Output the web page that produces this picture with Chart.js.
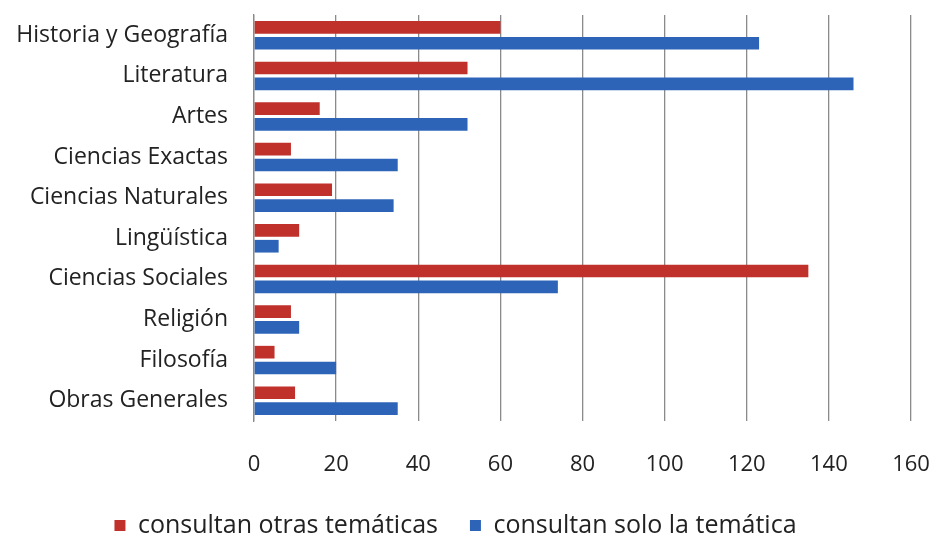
<!DOCTYPE html>
<html lang="es">
<head>
  <meta charset="UTF-8">
  <title>Consultas por temática</title>
  <script src="https://cdn.jsdelivr.net/npm/chart.js"></script>
  <style>
    html, body { margin: 0; padding: 0; background: #fff; }
    #wrap { width: 934px; height: 546px; }
  </style>
</head>
<body>
<div id="wrap"><canvas id="grafico"></canvas></div>

<script>
  // === Datos ===
  const tematicas = ["Historia y Geografía", "Literatura", "Artes", "Ciencias Exactas",
    "Ciencias Naturales", "Lingüística", "Ciencias Sociales", "Religión", "Filosofía", "Obras Generales"];
  const otrasTematicas = [60, 52, 16, 9, 19, 11, 135, 9, 5, 10];
  const soloTematica = [123, 146, 52, 35, 34, 6, 74, 11, 20, 35];
  const ticksX = [0, 20, 40, 60, 80, 100, 120, 140, 160];

  const fuente = "'Open Sans', sans-serif";

  new Chart(document.getElementById("grafico"), {
    type: "bar",
    data: {
      labels: tematicas,
      datasets: [
        {
          label: "consultan otras temáticas",
          data: otrasTematicas,
          backgroundColor: "#C0312C"
        },
        {
          label: "consultan solo la temática",
          data: soloTematica,
          backgroundColor: "#2E64B8"
        }
      ]
    },
    options: {
      indexAxis: "y",
      responsive: true,
      maintainAspectRatio: false,
      animation: false,
      categoryPercentage: 0.78,
      barPercentage: 0.8,
      layout: { padding: { top: 15, right: 23, left: 0, bottom: -2 } },
      plugins: {
        legend: {
          position: "bottom",
          labels: {
            boxWidth: 11, boxHeight: 11, padding: 32,
            color: "#222", font: { family: fuente, size: 25 }
          }
        },
        tooltip: { enabled: false }
      },
      scales: {
        x: {
          min: 0, max: 160,
          afterBuildTicks: (s) => { s.ticks = ticksX.map(v => ({ value: v })); },
          afterFit: (s) => { s.height = 60; s.paddingLeft = 0; s.paddingRight = 0; },
          grid: { color: "#8a8a8a", lineWidth: 1.3, drawTicks: false },
          border: { display: false },
          ticks: { color: "#222", padding: 31, font: { family: fuente, size: 22 } }
        },
        y: {
          afterFit: (s) => { s.width = 254; s.paddingTop = 0; s.paddingBottom = 0; },
          grid: { display: false },
          border: { color: "#8a8a8a", width: 1.3 },
          ticks: { color: "#222", padding: 18, font: { family: fuente, size: 23 } }
        }
      }
    }
  });
</script>
</body>
</html>
